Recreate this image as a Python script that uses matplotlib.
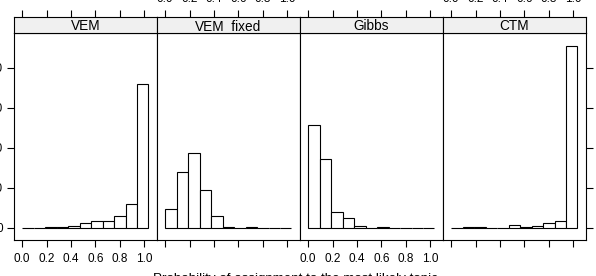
import matplotlib as mpl
mpl.use('Agg')
import matplotlib.pyplot as plt
import numpy as np

plt.rcParams['font.family'] = ['Liberation Sans', 'DejaVu Sans']

# histogram breaks shared by all panels (lattice style)
breaks = [0.0, 0.094, 0.188, 0.283, 0.377, 0.471, 0.565,
          0.659, 0.754, 0.848, 0.942, 1.036]

methods = ['VEM', 'VEM_fixed', 'Gibbs', 'CTM']
# percent of total in each bin
vem = [0.0, 0.0, 0.2, 0.2, 1.0, 2.2, 3.5, 3.2, 6.0, 11.8, 71.8]
vem_fixed = [9.3, 28.0, 37.5, 18.8, 6.0, 0.3, 0.0, 0.2, 0.0, 0.0, 0.0]
gibbs = [51.5, 34.5, 8.0, 4.7, 1.0, 0.1, 0.2, 0.0, 0.0, 0.0, 0.0]
ctm = [0.0, 0.2, 0.2, 0.0, 0.0, 1.5, 0.5, 1.0, 2.2, 3.5, 90.9]
percents = [vem, vem_fixed, gibbs, ctm]

xticks = [0.0, 0.2, 0.4, 0.6, 0.8, 1.0]
yticks = [0, 20, 40, 60, 80]
xlabel = 'Probability of assignment to the most likely topic'

W, H = 596, 276
fig = plt.figure(figsize=(W / 100, H / 100), dpi=100)

# panel geometry in pixels
x0, pw = 14, 143
top, strip_h, bot = 33, 16, 240

widths = np.diff(breaks)
for i, (name, pct) in enumerate(zip(methods, percents)):
    left = (x0 + i * pw) / W
    ax = fig.add_axes([left, (H - bot) / H, pw / W, (bot - top) / H])
    sx = fig.add_axes([left, (H - top) / H, pw / W, strip_h / H])

    ax.bar(breaks[:-1], pct, width=widths, align='edge',
           facecolor='white', edgecolor='black', linewidth=0.8)
    ax.set_xlim(-0.067, 1.106)
    ax.set_ylim(-6.15, 97.35)
    sx.set_xlim(ax.get_xlim())
    sx.set_ylim(0, 1)

    for a in (ax, sx):
        for s in a.spines.values():
            s.set_linewidth(0.8)
            s.set_color('black')

    ax.set_xticks(xticks)
    ax.set_xticklabels([f'{t:.1f}' for t in xticks])
    ax.tick_params(axis='x', direction='out', length=5, width=0.8,
                   labelsize=8.5, pad=4, labelbottom=(i % 2 == 0))
    ax.set_yticks(yticks)
    ax.tick_params(axis='y', direction='out', length=5, width=0.8,
                   labelsize=8.5, pad=3,
                   left=(i == 0), labelleft=(i == 0),
                   right=(i == 3), labelright=False)

    sx.set_facecolor('#f0f0f0')
    sx.set_yticks([])
    sx.set_xticks(xticks)
    sx.set_xticklabels([f'{t:.1f}' for t in xticks])
    sx.tick_params(axis='x', direction='out', length=5, width=0.8,
                   labelsize=8.5, pad=4, bottom=False, labelbottom=False,
                   top=True, labeltop=(i % 2 == 1))
    sx.text(0.5, 0.2, name, transform=sx.transAxes, ha='center',
            va='baseline', fontsize=9.8, zorder=5)

fig.text(295 / W, (H - 282) / H, xlabel, ha='center', va='baseline',
         fontsize=9.6)

fig.savefig('out.png', dpi=100)
